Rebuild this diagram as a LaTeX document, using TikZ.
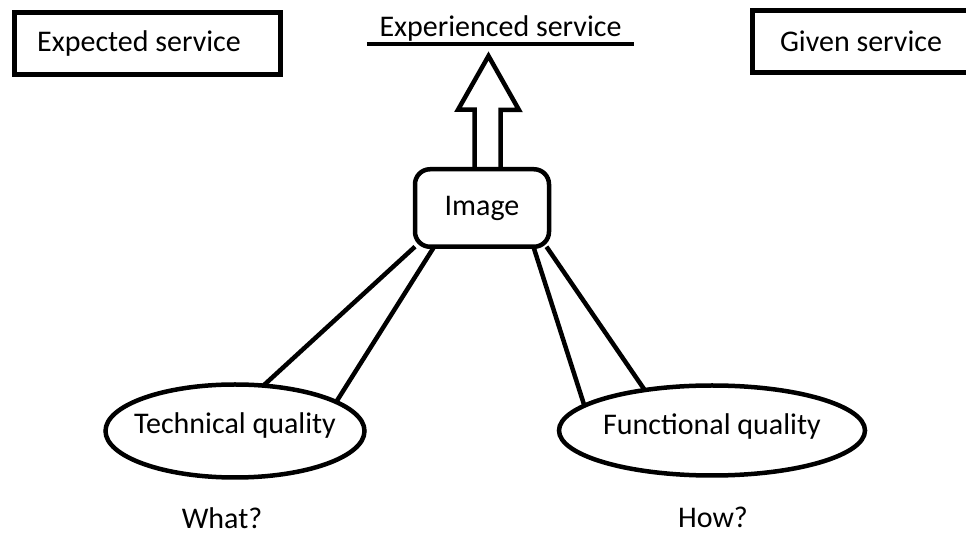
\documentclass[tikz,border=0pt]{standalone}
\usepackage{fontspec}
\setmainfont{Carlito}
\usetikzlibrary{shapes.geometric, positioning}
\tikzset{
    box/.style={rectangle, draw, line width=5pt, minimum width=266pt, minimum height=62pt, inner sep=0pt},
    imgbox/.style={rectangle, draw, line width=4.5pt, rounded corners=15pt, minimum width=134pt, minimum height=77.5pt, outer sep=0pt},
    quality/.style={ellipse, draw, line width=4.5pt, inner sep=0pt, outer sep=0pt},
    link/.style={line width=4.5pt},
    hollow/.style={line width=4.5pt, line join=miter},
    plain/.style={inner sep=0pt}
}

\begin{document}
\begin{tikzpicture}[x=1pt, y=1pt, font=\fontsize{30}{36}\selectfont]
        \useasboundingbox (0,0) rectangle (966,535);

        \node (ES) [box, label={[plain, anchor=west, xshift=25pt]west:Expected service}] at (147.5,491.5) {};
        \node (GS) [box, minimum width=217.5pt] at (861,493.5) {Given service};
        \node (XS) [plain, anchor=south, minimum width=267pt, inner ysep=2pt] at (500.5,491) {Experienced service};
        \draw [link] (XS.south west) -- (XS.south east);

        \node (Img) [imgbox] at (482,327) {Image};
        \coordinate (tip) at (488.5,479);

        \node (TQ) [quality, minimum width=259pt, minimum height=93pt,
            label={[plain, yshift=5pt]center:Technical quality}] at (235,104) {};
        \node (FQ) [quality, minimum width=306pt, minimum height=90pt,
            label={[plain, yshift=4pt]center:Functional quality}] at (712,104.5) {};

        % Labels
        \node (what) [plain] at (222,17) {What?};
        \node (how) [plain] at (713,18) {How?};

        % hollow arrow up from the image
        \draw [hollow] ([xshift=-7.5pt]Img.north) -- ++(0,59.5) -- ++(-16.5,0) -- (tip)
            -- ++(30.5,-54) -- ++(-18.5,0) -- ([xshift=18.5pt]Img.north);

        \draw [link] (Img.210) -- (TQ.58);
        \draw [link] (Img.219) -- (TQ.16);
        \draw [link] (Img.323) -- (FQ.169);
        \draw [link] (Img.329) -- (FQ.149);
    \end{tikzpicture}
\end{document}
